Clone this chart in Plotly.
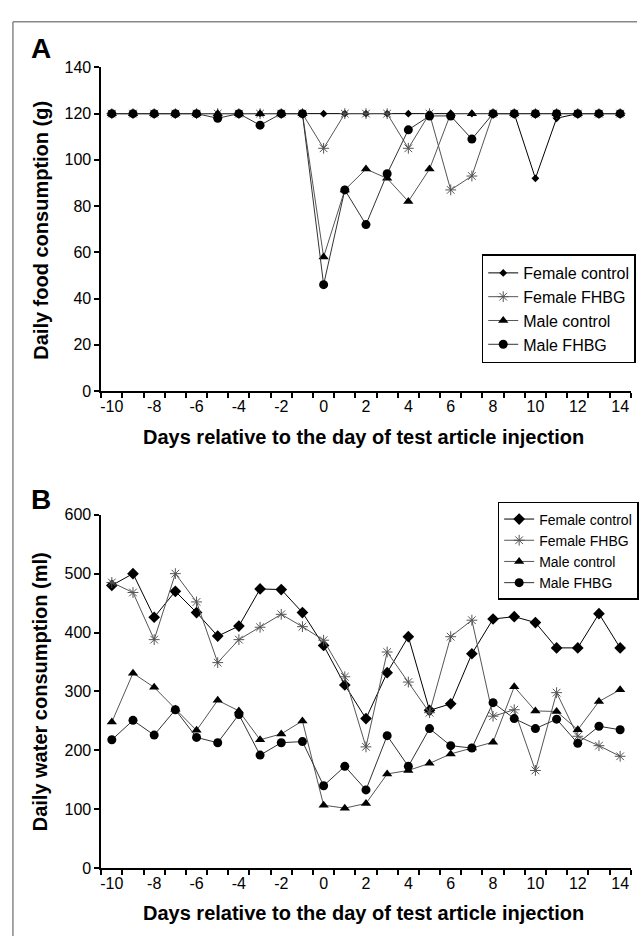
import plotly.graph_objects as go

days = list(range(-10, 15))
x_tick_vals = list(range(-10, 15, 2))
x_tick_text = [str(v) for v in x_tick_vals]
series_names = ["Female control", "Female FHBG", "Male control", "Male FHBG"]

# Panel A: daily food consumption (g)
food_female_control = [120, 120, 120, 120, 120, 120, 120, 120, 120, 120,
                       120, 120, 120, 120, 120, 120, 120, 120, 120, 120,
                       92, 118, 120, 120, 120]
food_female_fhbg = [120, 120, 120, 120, 120, 120, 120, 120, 120, 120,
                    105, 120, 120, 120, 105, 120, 87, 93, 120, 120,
                    120, 120, 120, 120, 120]
food_male_control = [120, 120, 120, 120, 120, 120, 120, 120, 120, 120,
                     58, 87, 96, 92, 82, 96, 120, 120, 120, 120,
                     120, 120, 120, 120, 120]
food_male_fhbg = [120, 120, 120, 120, 120, 118, 120, 115, 120, 120,
                  46, 87, 72, 94, 113, 119, 119, 109, 120, 120,
                  120, 120, 120, 120, 120]

# Panel B: daily water consumption (ml)
water_female_control = [480, 500, 426, 470, 434, 394, 411, 474, 473, 434,
                        378, 311, 254, 332, 393, 268, 279, 364, 423, 427,
                        417, 374, 374, 432, 374]
water_female_fhbg = [485, 468, 388, 500, 452, 349, 388, 409, 431, 410,
                     387, 325, 206, 367, 316, 264, 393, 421, 258, 269,
                     166, 298, 224, 208, 190]
water_male_control = [248, 331, 307, 270, 234, 285, 267, 218, 228, 250,
                      107, 102, 110, 160, 166, 178, 194, 204, 214, 308,
                      267, 266, 235, 283, 303]
water_male_fhbg = [218, 251, 226, 269, 222, 213, 261, 192, 213, 215,
                   140, 173, 133, 225, 173, 237, 208, 204, 281, 254,
                   237, 253, 212, 241, 235]

FONT = "Liberation Sans, Arial, sans-serif"
W, H = 639, 945


def px_x(p):
    return p / W


def px_y(p):
    return 1 - p / H


def style(name, panel):
    if name == "Female control":
        return dict(marker=dict(symbol="diamond", size=6 if panel == "A" else 9, color="black"),
                    line=dict(color="black", width=1))
    if name == "Female FHBG":
        return dict(marker=dict(symbol="asterisk-open", size=9, color="#555",
                                line=dict(color="#555", width=1)),
                    line=dict(color="#555", width=1))
    if name == "Male control":
        return dict(marker=dict(symbol="triangle-up", size=9, color="black"),
                    line=dict(color="#555", width=1))
    return dict(marker=dict(symbol="circle", size=9, color="black"),
                line=dict(color="#333", width=1))


fig = go.Figure()
food = [food_female_control, food_female_fhbg, food_male_control, food_male_fhbg]
water = [water_female_control, water_female_fhbg, water_male_control, water_male_fhbg]

for name, vals in zip(series_names, food):
    fig.add_trace(go.Scatter(x=days, y=vals, name=name, mode="lines+markers",
                             xaxis="x", yaxis="y", legend="legend", cliponaxis=False,
                             **style(name, "A")))
for name, vals in zip(series_names, water):
    fig.add_trace(go.Scatter(x=days, y=vals, name=name, mode="lines+markers",
                             xaxis="x2", yaxis="y2", legend="legend2", cliponaxis=False,
                             **style(name, "B")))

xdom = [px_x(100.7), px_x(632.7)]
common_x = dict(domain=xdom, range=[-10.5, 14.5], tickvals=x_tick_vals, ticktext=x_tick_text,
                ticks="", showline=True, linecolor="black", linewidth=1.5, showgrid=False,
                zeroline=False, tickfont=dict(family=FONT, size=16, color="black"),
                minor=dict(ticks="outside", tick0=-10.5, dtick=1, ticklen=5,
                           tickcolor="black", tickwidth=1.5, showgrid=False))
common_y = dict(ticks="outside", ticklen=5, tickcolor="black", tickwidth=1.5,
                showline=True, linecolor="black", linewidth=1.5, showgrid=False,
                zeroline=False, tickfont=dict(family=FONT, size=16, color="black"))

fig.update_layout(
    width=W, height=H, margin=dict(l=0, r=0, t=0, b=0),
    paper_bgcolor="white", plot_bgcolor="white",
    xaxis=dict(anchor="y", **common_x),
    yaxis=dict(anchor="x", domain=[px_y(390), px_y(60.5)], range=[0, 140], dtick=20, **common_y),
    xaxis2=dict(anchor="y2", **common_x),
    yaxis2=dict(anchor="x2", domain=[px_y(876), px_y(516)], range=[0, 600], dtick=100, **common_y),
    legend=dict(x=px_x(483), y=px_y(251), xanchor="left", yanchor="top",
                bordercolor="black", borderwidth=1.5, bgcolor="white", itemwidth=30,
                font=dict(family=FONT, size=16, color="black"), tracegroupgap=0),
    legend2=dict(x=px_x(499), y=px_y(503), xanchor="left", yanchor="top",
                 bordercolor="black", borderwidth=1.5, bgcolor="white", itemwidth=30,
                 font=dict(family=FONT, size=14, color="black"), tracegroupgap=0),
    showlegend=True,
)

bold = dict(family=FONT, color="black", weight="bold")
annots = [
    dict(text="A", x=px_x(40), y=px_y(41), font=dict(size=28, **bold)),
    dict(text="B", x=px_x(40), y=px_y(500), font=dict(size=28, **bold)),
    dict(text="Daily food consumption (g)", x=px_x(40), y=px_y(226), textangle=-90,
         font=dict(size=20, **bold)),
    dict(text="Daily water consumption (ml)", x=px_x(40), y=px_y(696), textangle=-90,
         font=dict(size=20, **bold)),
    dict(text="Days relative to the day of test article injection", x=px_x(364), y=px_y(437),
         font=dict(size=20, **bold)),
    dict(text="Days relative to the day of test article injection", x=px_x(364), y=px_y(922),
         font=dict(size=20, **bold)),
]
for a in annots:
    fig.add_annotation(xref="paper", yref="paper", showarrow=False,
                       xanchor="center", yanchor="middle", **a)

# gray frame (left and top edges visible)
fig.add_shape(type="line", xref="paper", yref="paper", x0=px_x(12), x1=1, y0=px_y(14), y1=px_y(14),
              line=dict(color="#888", width=1.5))
fig.add_shape(type="line", xref="paper", yref="paper", x0=px_x(12), x1=px_x(12), y0=px_y(14), y1=0,
              line=dict(color="#888", width=1.5))

fig.write_html("out.html")
